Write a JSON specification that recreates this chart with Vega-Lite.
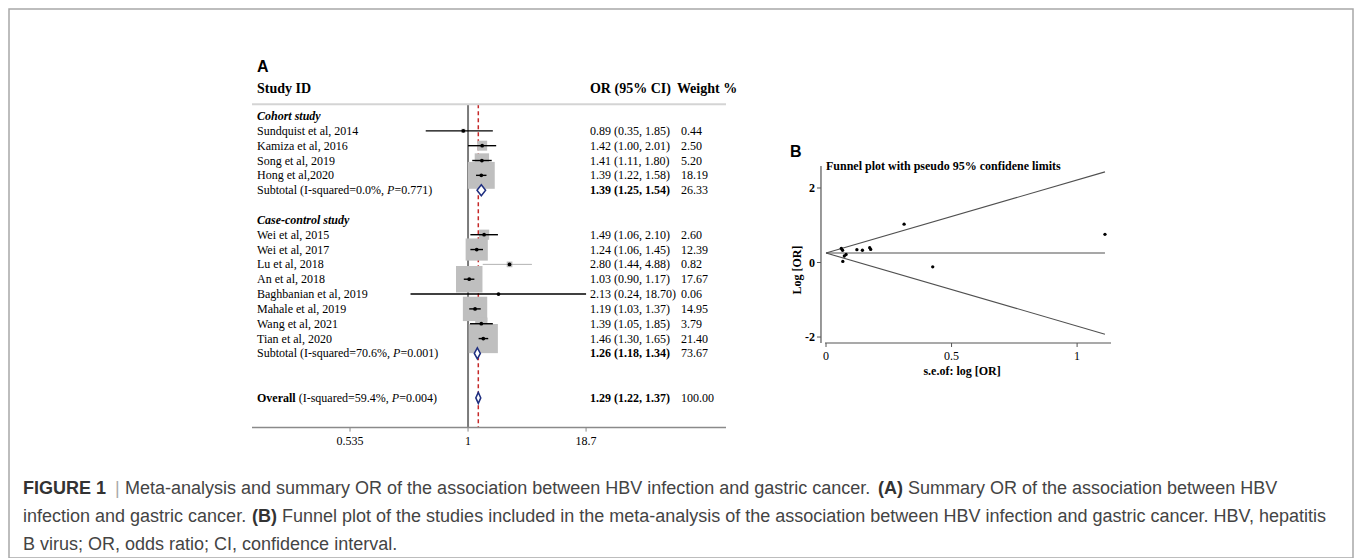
{
  "$schema": "https://vega.github.io/schema/vega-lite/v6.json",
  "width": 1344,
  "height": 549,
  "autosize": {"type": "none"},
  "padding": {"left": 9, "top": 9, "right": 2, "bottom": 0},
  "background": "white",
  "config": {
    "view": {"stroke": "#a8a8a8", "strokeWidth": 1.5},
    "axis": {"grid": false}
  },
  "datasets": {
    "forest": [
      {"row": "Cohort study", "kind": "group"},
      {"row": "Sundquist et al, 2014", "kind": "study", "or": 0.89, "lo": 0.35, "hi": 1.85, "w": 0.44, "ci": "0.89 (0.35, 1.85)", "wt": "0.44"},
      {"row": "Kamiza et al, 2016", "kind": "study", "or": 1.42, "lo": 1.00, "hi": 2.01, "w": 2.50, "ci": "1.42 (1.00, 2.01)", "wt": "2.50"},
      {"row": "Song et al, 2019", "kind": "study", "or": 1.41, "lo": 1.11, "hi": 1.80, "w": 5.20, "ci": "1.41 (1.11, 1.80)", "wt": "5.20"},
      {"row": "Hong et al,2020", "kind": "study", "or": 1.39, "lo": 1.22, "hi": 1.58, "w": 18.19, "ci": "1.39 (1.22, 1.58)", "wt": "18.19"},
      {"row": "Subtotal (I-squared=0.0%, P=0.771)", "kind": "subtotal", "grp": "cohort", "pre": "Subtotal (I-squared=0.0%, ", "p": "P", "post": "=0.771)", "or": 1.39, "lo": 1.25, "hi": 1.54, "w": 26.33, "ci": "1.39 (1.25, 1.54)", "wt": "26.33"},
      {"row": "Case-control study", "kind": "group"},
      {"row": "Wei et al, 2015", "kind": "study", "or": 1.49, "lo": 1.06, "hi": 2.10, "w": 2.60, "ci": "1.49 (1.06, 2.10)", "wt": "2.60"},
      {"row": "Wei et al, 2017", "kind": "study", "or": 1.24, "lo": 1.06, "hi": 1.45, "w": 12.39, "ci": "1.24 (1.06, 1.45)", "wt": "12.39"},
      {"row": "Lu et al, 2018", "kind": "study", "or": 2.80, "lo": 1.44, "hi": 4.88, "w": 0.82, "ci": "2.80 (1.44, 4.88)", "wt": "0.82"},
      {"row": "An et al, 2018", "kind": "study", "or": 1.03, "lo": 0.90, "hi": 1.17, "w": 17.67, "ci": "1.03 (0.90, 1.17)", "wt": "17.67"},
      {"row": "Baghbanian et al, 2019", "kind": "study", "or": 2.13, "lo": 0.24, "hi": 18.70, "w": 0.06, "ci": "2.13 (0.24, 18.70)", "wt": "0.06"},
      {"row": "Mahale et al, 2019", "kind": "study", "or": 1.19, "lo": 1.03, "hi": 1.37, "w": 14.95, "ci": "1.19 (1.03, 1.37)", "wt": "14.95"},
      {"row": "Wang et al, 2021", "kind": "study", "or": 1.39, "lo": 1.05, "hi": 1.85, "w": 3.79, "ci": "1.39 (1.05, 1.85)", "wt": "3.79"},
      {"row": "Tian et al, 2020", "kind": "study", "or": 1.46, "lo": 1.30, "hi": 1.65, "w": 21.40, "ci": "1.46 (1.30, 1.65)", "wt": "21.40"},
      {"row": "Subtotal (I-squared=70.6%, P=0.001)", "kind": "subtotal", "grp": "cc", "pre": "Subtotal (I-squared=70.6%, ", "p": "P", "post": "=0.001)", "or": 1.26, "lo": 1.18, "hi": 1.34, "w": 73.67, "ci": "1.26 (1.18, 1.34)", "wt": "73.67"},
      {"row": "Overall", "kind": "overall", "pre": "(I-squared=59.4%, ", "p": "P", "post": "=0.004)", "or": 1.29, "lo": 1.22, "hi": 1.37, "w": 100.00, "ci": "1.29 (1.22, 1.37)", "wt": "100.00"}
    ],
    "forestTicks": [
      {"t": 0.0535, "label": "0.535"},
      {"t": 1, "label": "1"},
      {"t": 18.7, "label": "18.7"}
    ],
    "funnelPts": [
      {"study": "Sundquist et al, 2014", "se": 0.425, "logor": -0.117},
      {"study": "Kamiza et al, 2016", "se": 0.178, "logor": 0.351},
      {"study": "Song et al, 2019", "se": 0.123, "logor": 0.344},
      {"study": "Hong et al,2020", "se": 0.066, "logor": 0.329},
      {"study": "Wei et al, 2015", "se": 0.174, "logor": 0.399},
      {"study": "Wei et al, 2017", "se": 0.080, "logor": 0.215},
      {"study": "Lu et al, 2018", "se": 0.311, "logor": 1.030},
      {"study": "An et al, 2018", "se": 0.067, "logor": 0.030},
      {"study": "Baghbanian et al, 2019", "se": 1.111, "logor": 0.756},
      {"study": "Mahale et al, 2019", "se": 0.073, "logor": 0.174},
      {"study": "Wang et al, 2021", "se": 0.145, "logor": 0.329},
      {"study": "Tian et al, 2020", "se": 0.061, "logor": 0.378}
    ],
    "funnelLines": [
      {"line": "upper", "se": 0, "logor": 0.255},
      {"line": "upper", "se": 1.111, "logor": 2.433},
      {"line": "mid", "se": 0, "logor": 0.255},
      {"line": "mid", "se": 1.111, "logor": 0.255},
      {"line": "lower", "se": 0, "logor": 0.255},
      {"line": "lower", "se": 1.111, "logor": -1.923}
    ],
    "funnelTicksY": [
      {"v": -2, "label": "-2"},
      {"v": 0, "label": "0"},
      {"v": 2, "label": "2"}
    ],
    "funnelTicksX": [
      {"v": 0, "label": "0"},
      {"v": 0.5, "label": "0.5"},
      {"v": 1, "label": "1"}
    ],
    "caption": [
      {"line": "c1", "part": "fig", "text": "FIGURE 1"},
      {"line": "c1", "part": "bar", "text": "|"},
      {"line": "c1", "part": "t1", "text": "Meta-analysis and summary OR of the association between HBV infection and gastric cancer."},
      {"line": "c1", "part": "A", "text": "(A)"},
      {"line": "c1", "part": "t2", "text": "Summary OR of the association between HBV"},
      {"line": "c2", "part": "t3", "text": "infection and gastric cancer."},
      {"line": "c2", "part": "B", "text": "(B)"},
      {"line": "c2", "part": "t4", "text": "Funnel plot of the studies included in the meta-analysis of the association between HBV infection and gastric cancer. HBV, hepatitis"},
      {"line": "c3", "part": "t5", "text": "B virus; OR, odds ratio; CI, confidence interval."}
    ]
  },
  "resolve": {"scale": {"x": "independent", "y": "independent"}, "axis": {"x": "independent", "y": "independent"}},
  "layer": [
    {
      "layer": [
        {
          "data": {"values": [{"ref": 1}]},
          "mark": {"type": "rule", "color": "#7a7a7a", "strokeWidth": 2, "yOffset": 3},
          "encoding": {
            "x": {"field": "ref", "type": "quantitative", "axis": null},
            "y": {"datum": "gap0", "type": "nominal", "axis": null},
            "y2": {"datum": "end2"}
          }
        },
        {
          "data": {"name": "forest"},
          "transform": [{"filter": "datum.kind === 'overall'"}],
          "mark": {"type": "rule", "color": "#c62828", "strokeWidth": 1.5, "strokeDash": [4, 3], "yOffset": 3},
          "encoding": {
            "x": {"field": "or", "type": "quantitative", "axis": null},
            "y": {"datum": "gap0", "type": "nominal", "axis": null},
            "y2": {"datum": "end2"}
          }
        },
        {
          "data": {"name": "forest"},
          "transform": [{"filter": "datum.kind === 'study'"}],
          "mark": {"type": "point", "shape": "square", "filled": true, "color": "#bfbfbf", "opacity": 1},
          "encoding": {
            "x": {
              "field": "or", "type": "quantitative",
              "scale": {"type": "log", "domain": [0.0047, 602], "range": [243, 717], "nice": false},
              "axis": null
            },
            "y": {
              "field": "row", "type": "nominal",
              "scale": {
                "type": "point", "padding": 0, "range": [77.32, 418.6],
                "domain": ["hdr", "gap0", "Cohort study", "Sundquist et al, 2014", "Kamiza et al, 2016", "Song et al, 2019", "Hong et al,2020", "Subtotal (I-squared=0.0%, P=0.771)", "gap1", "Case-control study", "Wei et al, 2015", "Wei et al, 2017", "Lu et al, 2018", "An et al, 2018", "Baghbanian et al, 2019", "Mahale et al, 2019", "Wang et al, 2021", "Tian et al, 2020", "Subtotal (I-squared=70.6%, P=0.001)", "gap2", "gap3", "Overall", "end1", "end2"]
              },
              "axis": null
            },
            "size": {"field": "w", "type": "quantitative", "scale": {"domain": [0, 21.4], "range": [0, 850]}, "legend": null}
          }
        },
        {
          "data": {"values": [{"t": "header line"}]},
          "mark": {"type": "rule", "color": "#d4d4d4", "strokeWidth": 2, "yOffset": 3},
          "encoding": {
            "x": {"datum": 0.0047, "type": "quantitative", "axis": null},
            "x2": {"datum": 602},
            "y": {"datum": "gap0", "type": "nominal", "axis": null}
          }
        },
        {
          "data": {"values": [{"t": "axis line"}]},
          "mark": {"type": "rule", "color": "#8a8a8a", "strokeWidth": 1.5},
          "encoding": {
            "x": {"datum": 0.0047, "type": "quantitative", "axis": null},
            "x2": {"datum": 602},
            "y": {"datum": "end2", "type": "nominal", "axis": null}
          }
        },
        {
          "data": {"name": "forestTicks"},
          "mark": {"type": "rule", "color": "#8a8a8a", "strokeWidth": 1, "y2Offset": 4},
          "encoding": {
            "x": {"field": "t", "type": "quantitative", "axis": null},
            "y": {"datum": "end2", "type": "nominal", "axis": null},
            "y2": {"datum": "end2"}
          }
        },
        {
          "data": {"name": "forestTicks"},
          "mark": {"type": "text", "align": "center", "baseline": "middle", "font": "Liberation Serif", "fontSize": 12, "color": "black", "dy": 13.5},
          "encoding": {
            "x": {"field": "t", "type": "quantitative", "axis": null},
            "y": {"datum": "end2", "type": "nominal", "axis": null},
            "text": {"field": "label"}
          }
        },
        {
          "data": {"name": "forest"},
          "transform": [{"filter": "datum.kind === 'study'"}],
          "mark": {"type": "rule"},
          "encoding": {
            "x": {"field": "lo", "type": "quantitative", "axis": null},
            "x2": {"field": "hi"},
            "y": {"field": "row", "type": "nominal", "axis": null},
            "color": {"condition": {"test": "datum.row === 'Lu et al, 2018'", "value": "#a0a0a0"}, "value": "black"},
            "strokeWidth": {"condition": {"test": "datum.row === 'Lu et al, 2018'", "value": 0.8}, "value": 1.4}
          }
        },
        {
          "data": {"name": "forest"},
          "transform": [{"filter": "datum.kind === 'study'"}],
          "mark": {"type": "point", "shape": "circle", "filled": true, "color": "black", "size": 14, "opacity": 1},
          "encoding": {
            "x": {"field": "or", "type": "quantitative", "axis": null},
            "y": {"field": "row", "type": "nominal", "axis": null}
          }
        },
        {
          "data": {"name": "forest"},
          "transform": [{"filter": "datum.kind === 'subtotal' || datum.kind === 'overall'"}],
          "mark": {"type": "point", "filled": true, "fill": "white", "stroke": "#1f2f80", "strokeWidth": 1.5, "opacity": 1, "size": 121},
          "encoding": {
            "x": {"field": "or", "type": "quantitative", "axis": null},
            "y": {"field": "row", "type": "nominal", "axis": null},
            "shape": {
              "condition": [
                {"test": "datum.grp === 'cohort'", "value": "M-0.78,0L0,-1L0.78,0L0,1Z"},
                {"test": "datum.grp === 'cc'", "value": "M-0.55,0L0,-1L0.55,0L0,1Z"}
              ],
              "value": "M-0.45,0L0,-1L0.45,0L0,1Z"
            }
          }
        },
        {
          "data": {"name": "forest"},
          "transform": [{"filter": "datum.kind === 'study'"}],
          "mark": {"type": "text", "align": "left", "baseline": "middle", "font": "Liberation Serif", "fontSize": 12, "color": "black"},
          "encoding": {
            "x": {"datum": 0.00532, "type": "quantitative", "axis": null},
            "y": {"field": "row", "type": "nominal", "axis": null},
            "text": {"field": "row"}
          }
        },
        {
          "data": {"name": "forest"},
          "transform": [{"filter": "datum.kind === 'subtotal'"}],
          "mark": {"type": "text", "align": "left", "baseline": "middle", "font": "Liberation Serif", "fontSize": 12, "color": "black"},
          "encoding": {
            "x": {"datum": 0.00532, "type": "quantitative", "axis": null},
            "y": {"field": "row", "type": "nominal", "axis": null},
            "text": {"field": "pre"}
          }
        },
        {
          "data": {"name": "forest"},
          "transform": [{"filter": "datum.grp === 'cohort'"}],
          "mark": {"type": "text", "align": "left", "baseline": "middle", "font": "Liberation Serif", "fontSize": 12, "fontStyle": "italic", "color": "black", "dx": 130.1},
          "encoding": {
            "x": {"datum": 0.00532, "type": "quantitative", "axis": null},
            "y": {"field": "row", "type": "nominal", "axis": null},
            "text": {"field": "p"}
          }
        },
        {
          "data": {"name": "forest"},
          "transform": [{"filter": "datum.grp === 'cohort'"}],
          "mark": {"type": "text", "align": "left", "baseline": "middle", "font": "Liberation Serif", "fontSize": 12, "color": "black", "dx": 137.5},
          "encoding": {
            "x": {"datum": 0.00532, "type": "quantitative", "axis": null},
            "y": {"field": "row", "type": "nominal", "axis": null},
            "text": {"field": "post"}
          }
        },
        {
          "data": {"name": "forest"},
          "transform": [{"filter": "datum.grp === 'cc'"}],
          "mark": {"type": "text", "align": "left", "baseline": "middle", "font": "Liberation Serif", "fontSize": 12, "fontStyle": "italic", "color": "black", "dx": 136.1},
          "encoding": {
            "x": {"datum": 0.00532, "type": "quantitative", "axis": null},
            "y": {"field": "row", "type": "nominal", "axis": null},
            "text": {"field": "p"}
          }
        },
        {
          "data": {"name": "forest"},
          "transform": [{"filter": "datum.grp === 'cc'"}],
          "mark": {"type": "text", "align": "left", "baseline": "middle", "font": "Liberation Serif", "fontSize": 12, "color": "black", "dx": 143.5},
          "encoding": {
            "x": {"datum": 0.00532, "type": "quantitative", "axis": null},
            "y": {"field": "row", "type": "nominal", "axis": null},
            "text": {"field": "post"}
          }
        },
        {
          "data": {"name": "forest"},
          "transform": [{"filter": "datum.kind === 'group'"}],
          "mark": {"type": "text", "align": "left", "baseline": "middle", "font": "Liberation Serif", "fontSize": 12, "fontWeight": "bold", "fontStyle": "italic", "color": "black"},
          "encoding": {
            "x": {"datum": 0.00532, "type": "quantitative", "axis": null},
            "y": {"field": "row", "type": "nominal", "axis": null},
            "text": {"field": "row"}
          }
        },
        {
          "data": {"name": "forest"},
          "transform": [{"filter": "datum.kind === 'overall'"}],
          "mark": {"type": "text", "align": "left", "baseline": "middle", "font": "Liberation Serif", "fontSize": 12, "fontWeight": "bold", "color": "black"},
          "encoding": {
            "x": {"datum": 0.00532, "type": "quantitative", "axis": null},
            "y": {"field": "row", "type": "nominal", "axis": null},
            "text": {"field": "row"}
          }
        },
        {
          "data": {"name": "forest"},
          "transform": [{"filter": "datum.kind === 'overall'"}],
          "mark": {"type": "text", "align": "left", "baseline": "middle", "font": "Liberation Serif", "fontSize": 12, "color": "black", "dx": 41.7},
          "encoding": {
            "x": {"datum": 0.00532, "type": "quantitative", "axis": null},
            "y": {"field": "row", "type": "nominal", "axis": null},
            "text": {"field": "pre"}
          }
        },
        {
          "data": {"name": "forest"},
          "transform": [{"filter": "datum.kind === 'overall'"}],
          "mark": {"type": "text", "align": "left", "baseline": "middle", "font": "Liberation Serif", "fontSize": 12, "fontStyle": "italic", "color": "black", "dx": 134.8},
          "encoding": {
            "x": {"datum": 0.00532, "type": "quantitative", "axis": null},
            "y": {"field": "row", "type": "nominal", "axis": null},
            "text": {"field": "p"}
          }
        },
        {
          "data": {"name": "forest"},
          "transform": [{"filter": "datum.kind === 'overall'"}],
          "mark": {"type": "text", "align": "left", "baseline": "middle", "font": "Liberation Serif", "fontSize": 12, "color": "black", "dx": 142.2},
          "encoding": {
            "x": {"datum": 0.00532, "type": "quantitative", "axis": null},
            "y": {"field": "row", "type": "nominal", "axis": null},
            "text": {"field": "post"}
          }
        },
        {
          "data": {"name": "forest"},
          "transform": [{"filter": "datum.kind === 'study'"}],
          "mark": {"type": "text", "align": "left", "baseline": "middle", "font": "Liberation Serif", "fontSize": 12, "color": "black"},
          "encoding": {
            "x": {"datum": 20.6, "type": "quantitative", "axis": null},
            "y": {"field": "row", "type": "nominal", "axis": null},
            "text": {"field": "ci"}
          }
        },
        {
          "data": {"name": "forest"},
          "transform": [{"filter": "datum.kind === 'subtotal' || datum.kind === 'overall'"}],
          "mark": {"type": "text", "align": "left", "baseline": "middle", "font": "Liberation Serif", "fontSize": 12, "fontWeight": "bold", "color": "black"},
          "encoding": {
            "x": {"datum": 20.6, "type": "quantitative", "axis": null},
            "y": {"field": "row", "type": "nominal", "axis": null},
            "text": {"field": "ci"}
          }
        },
        {
          "data": {"name": "forest"},
          "transform": [{"filter": "datum.kind !== 'group'"}],
          "mark": {"type": "text", "align": "left", "baseline": "middle", "font": "Liberation Serif", "fontSize": 12, "color": "black"},
          "encoding": {
            "x": {"datum": 197, "type": "quantitative", "axis": null},
            "y": {"field": "row", "type": "nominal", "axis": null},
            "text": {"field": "wt"}
          }
        },
        {
          "data": {"values": [{"t": "Study ID"}]},
          "mark": {"type": "text", "align": "left", "baseline": "middle", "font": "Liberation Serif", "fontSize": 14, "fontWeight": "bold", "color": "black", "dy": 2.7},
          "encoding": {
            "x": {"datum": 0.00532, "type": "quantitative", "axis": null},
            "y": {"datum": "hdr", "type": "nominal", "axis": null},
            "text": {"field": "t"}
          }
        },
        {
          "data": {"values": [{"t": "OR (95% CI)"}]},
          "mark": {"type": "text", "align": "left", "baseline": "middle", "font": "Liberation Serif", "fontSize": 14, "fontWeight": "bold", "color": "black", "dy": 2.7},
          "encoding": {
            "x": {"datum": 20.6, "type": "quantitative", "axis": null},
            "y": {"datum": "hdr", "type": "nominal", "axis": null},
            "text": {"field": "t"}
          }
        },
        {
          "data": {"values": [{"t": "Weight %"}]},
          "mark": {"type": "text", "align": "left", "baseline": "middle", "font": "Liberation Serif", "fontSize": 14, "fontWeight": "bold", "color": "black", "dy": 2.7},
          "encoding": {
            "x": {"datum": 178, "type": "quantitative", "axis": null},
            "y": {"datum": "hdr", "type": "nominal", "axis": null},
            "text": {"field": "t"}
          }
        },
        {
          "data": {"values": [{"t": "A"}]},
          "mark": {"type": "text", "align": "left", "baseline": "middle", "font": "Liberation Sans", "fontSize": 16, "fontWeight": "bold", "color": "black", "dy": -19.3},
          "encoding": {
            "x": {"datum": 0.00532, "type": "quantitative", "axis": null},
            "y": {"datum": "hdr", "type": "nominal", "axis": null},
            "text": {"field": "t"}
          }
        }
      ]
    },
    {
      "layer": [
        {
          "data": {"name": "funnelLines"},
          "mark": {"type": "line", "color": "#505050", "strokeWidth": 1.1},
          "encoding": {
            "x": {
              "field": "se", "type": "quantitative",
              "scale": {"domain": [-0.004, 1.135], "range": [816, 1102], "nice": false, "zero": false},
              "axis": null
            },
            "y": {
              "field": "logor", "type": "quantitative",
              "scale": {"domain": [-2.16, 2.59], "range": [334, 157], "nice": false, "zero": false},
              "axis": null
            },
            "detail": {"field": "line", "type": "nominal"}
          }
        },
        {
          "data": {"values": [{"t": "y axis line"}]},
          "mark": {"type": "rule", "color": "#555555", "strokeWidth": 1.2},
          "encoding": {
            "x": {"datum": -0.02, "type": "quantitative", "axis": null},
            "y": {"datum": -2.16, "type": "quantitative", "axis": null},
            "y2": {"datum": 2.59}
          }
        },
        {
          "data": {"values": [{"t": "x axis line"}]},
          "mark": {"type": "rule", "color": "#555555", "strokeWidth": 1.2},
          "encoding": {
            "x": {"datum": -0.004, "type": "quantitative", "axis": null},
            "x2": {"datum": 1.135},
            "y": {"datum": -2.16, "type": "quantitative", "axis": null}
          }
        },
        {
          "data": {"name": "funnelTicksY"},
          "mark": {"type": "rule", "color": "#555555", "strokeWidth": 1, "x2Offset": -4},
          "encoding": {
            "x": {"datum": -0.02, "type": "quantitative", "axis": null},
            "x2": {"datum": -0.02},
            "y": {"field": "v", "type": "quantitative", "axis": null}
          }
        },
        {
          "data": {"name": "funnelTicksY"},
          "mark": {"type": "text", "align": "right", "baseline": "middle", "font": "Liberation Serif", "fontSize": 12, "fontWeight": "bold", "color": "black", "dx": -6},
          "encoding": {
            "x": {"datum": -0.02, "type": "quantitative", "axis": null},
            "y": {"field": "v", "type": "quantitative", "axis": null},
            "text": {"field": "label"}
          }
        },
        {
          "data": {"name": "funnelTicksX"},
          "mark": {"type": "rule", "color": "#555555", "strokeWidth": 1, "y2Offset": 4},
          "encoding": {
            "x": {"field": "v", "type": "quantitative", "axis": null},
            "y": {"datum": -2.16, "type": "quantitative", "axis": null},
            "y2": {"datum": -2.16}
          }
        },
        {
          "data": {"name": "funnelTicksX"},
          "mark": {"type": "text", "align": "center", "baseline": "middle", "font": "Liberation Serif", "fontSize": 12, "color": "black", "dy": 12.5},
          "encoding": {
            "x": {"field": "v", "type": "quantitative", "axis": null},
            "y": {"datum": -2.16, "type": "quantitative", "axis": null},
            "text": {"field": "label"}
          }
        },
        {
          "data": {"values": [{"t": "Log [OR]"}]},
          "mark": {"type": "text", "align": "center", "baseline": "middle", "angle": 270, "font": "Liberation Serif", "fontSize": 12, "fontWeight": "bold", "color": "black"},
          "encoding": {
            "x": {"datum": -0.117, "type": "quantitative", "axis": null},
            "y": {"datum": -0.2, "type": "quantitative", "axis": null},
            "text": {"field": "t"}
          }
        },
        {
          "data": {"values": [{"t": "s.e.of: log [OR]"}]},
          "mark": {"type": "text", "align": "center", "baseline": "middle", "font": "Liberation Serif", "fontSize": 12, "fontWeight": "bold", "color": "black"},
          "encoding": {
            "x": {"datum": 0.542, "type": "quantitative", "axis": null},
            "y": {"datum": -2.91, "type": "quantitative", "axis": null},
            "text": {"field": "t"}
          }
        },
        {
          "data": {"name": "funnelPts"},
          "mark": {"type": "point", "shape": "circle", "filled": true, "color": "black", "size": 11, "opacity": 1},
          "encoding": {
            "x": {"field": "se", "type": "quantitative", "axis": null},
            "y": {"field": "logor", "type": "quantitative", "axis": null}
          }
        },
        {
          "data": {"values": [{"t": "Funnel plot with pseudo 95% confidene limits"}]},
          "mark": {"type": "text", "align": "left", "baseline": "middle", "font": "Liberation Serif", "fontSize": 12, "fontWeight": "bold", "color": "black"},
          "encoding": {
            "x": {"datum": 0, "type": "quantitative", "axis": null},
            "y": {"datum": 2.6, "type": "quantitative", "axis": null},
            "text": {"field": "t"}
          }
        },
        {
          "data": {"values": [{"t": "B"}]},
          "mark": {"type": "text", "align": "left", "baseline": "middle", "font": "Liberation Sans", "fontSize": 16, "fontWeight": "bold", "color": "black"},
          "encoding": {
            "x": {"datum": -0.143, "type": "quantitative", "axis": null},
            "y": {"datum": 2.96, "type": "quantitative", "axis": null},
            "text": {"field": "t"}
          }
        }
      ]
    },
    {
      "data": {"name": "caption"},
      "encoding": {
        "y": {"field": "line", "type": "nominal", "scale": {"type": "point", "domain": ["c1", "c2", "c3"], "range": [484.5, 540.5], "padding": 0}, "axis": null},
        "x": {"datum": 0, "type": "quantitative", "scale": {"domain": [0, 1], "range": [14, 1344]}, "axis": null},
        "text": {"field": "text"}
      },
      "layer": [
        {"transform": [{"filter": "datum.part === 'fig'"}], "mark": {"type": "text", "align": "left", "baseline": "alphabetic", "font": "Liberation Sans", "fontSize": 18, "fontWeight": "bold", "color": "#333333"}},
        {"transform": [{"filter": "datum.part === 'bar'"}], "mark": {"type": "text", "align": "left", "baseline": "alphabetic", "font": "Liberation Sans", "fontSize": 18, "color": "#aaaaaa", "dx": 92}},
        {"transform": [{"filter": "datum.part === 't1'"}], "mark": {"type": "text", "align": "left", "baseline": "alphabetic", "font": "Liberation Sans", "fontSize": 18, "color": "#444444", "dx": 102}},
        {"transform": [{"filter": "datum.part === 'A'"}], "mark": {"type": "text", "align": "left", "baseline": "alphabetic", "font": "Liberation Sans", "fontSize": 18, "fontWeight": "bold", "color": "#333333", "dx": 855}},
        {"transform": [{"filter": "datum.part === 't2'"}], "mark": {"type": "text", "align": "left", "baseline": "alphabetic", "font": "Liberation Sans", "fontSize": 18, "color": "#444444", "dx": 885}},
        {"transform": [{"filter": "datum.part === 't3'"}], "mark": {"type": "text", "align": "left", "baseline": "alphabetic", "font": "Liberation Sans", "fontSize": 18, "color": "#444444"}},
        {"transform": [{"filter": "datum.part === 'B'"}], "mark": {"type": "text", "align": "left", "baseline": "alphabetic", "font": "Liberation Sans", "fontSize": 18, "fontWeight": "bold", "color": "#333333", "dx": 229}},
        {"transform": [{"filter": "datum.part === 't4'"}], "mark": {"type": "text", "align": "left", "baseline": "alphabetic", "font": "Liberation Sans", "fontSize": 18, "color": "#444444", "dx": 259}},
        {"transform": [{"filter": "datum.part === 't5'"}], "mark": {"type": "text", "align": "left", "baseline": "alphabetic", "font": "Liberation Sans", "fontSize": 18, "color": "#444444"}}
      ]
    }
  ]
}
